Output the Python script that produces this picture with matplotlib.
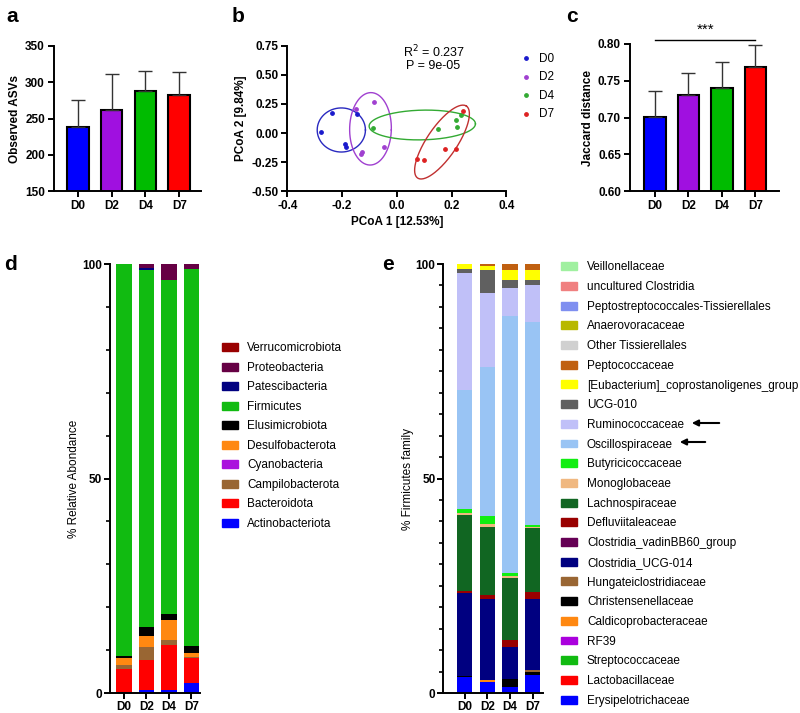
import numpy as np
import matplotlib
matplotlib.use("Agg")
import matplotlib.pyplot as plt
from matplotlib.patches import Patch, FancyArrowPatch
from matplotlib.ticker import FormatStrFormatter, MultipleLocator

plt.rcParams['font.family'] = ['Liberation Sans', 'DejaVu Sans']
plt.rcParams['axes.unicode_minus'] = False
plt.rcParams['font.size'] = 8.5

days = ['D0', 'D2', 'D4', 'D7']
day_colors = ['#0000ff', '#a010e0', '#00bb00', '#ff0000']

# a: observed ASVs (mean, upper error)
asv_mean = [238, 262, 288, 282]
asv_err = [37, 49, 28, 32]

# c: Jaccard distance
jac_mean = [0.701, 0.730, 0.740, 0.769]
jac_err = [0.035, 0.030, 0.036, 0.029]

# b: PCoA points per day
pc_x = {
    'D0': [-0.235, -0.278, -0.190, -0.185, -0.145],
    'D2': [-0.148, -0.082, -0.046, -0.132, -0.127],
    'D4': [-0.088, 0.152, 0.216, 0.221, 0.234],
    'D7': [0.243, 0.177, 0.216, 0.074, 0.099],
}
pc_y = {
    'D0': [0.170, 0.009, -0.095, -0.118, 0.160],
    'D2': [0.204, 0.264, -0.124, -0.180, -0.167],
    'D4': [0.046, 0.032, 0.112, 0.052, 0.158],
    'D7': [0.187, -0.141, -0.141, -0.224, -0.233],
}
pc_colors = ['#1a1acc', '#a040d0', '#33aa33', '#dd2222']
ell_colors = ['#2a2ac0', '#a040d0', '#33aa33', '#c03030']
# ellipse centre and two conjugate semi-axis vectors (data units)
ell_center = [(-0.2025, 0.026), (-0.096, 0.036), (0.093, 0.069), (0.165, -0.078)]
ell_a = [(0.088, 0.0), (0.076, -0.01), (0.194, 0.01), (0.089, 0.310)]
ell_b = [(0.0, 0.19), (0.004, 0.312), (0.0, 0.128), (0.0455, -0.0724)]

# d: phylum composition (bottom to top)
phyla = ['Actinobacteriota', 'Bacteroidota', 'Campilobacterota', 'Cyanobacteria',
         'Desulfobacterota', 'Elusimicrobiota', 'Firmicutes', 'Patescibacteria',
         'Proteobacteria', 'Verrucomicrobiota']
phyla_colors = ['#0000ff', '#ff0000', '#996633', '#aa11dd', '#ff8811', '#000000',
                '#11bb11', '#000080', '#660044', '#990000']
phyla_vals = {
    'D0': [0.2, 5.4, 1.0, 0.0, 1.6, 0.4, 91.3, 0.0, 0.1, 0.0],
    'D2': [0.8, 7.0, 3.0, 0.0, 2.5, 2.2, 83.0, 0.5, 1.0, 0.0],
    'D4': [0.6, 10.5, 1.2, 0.0, 4.7, 1.5, 77.8, 0.0, 3.7, 0.0],
    'D7': [2.4, 5.8, 0.3, 0.0, 0.8, 1.6, 87.9, 0.0, 1.2, 0.0],
}

# e: Firmicutes families (bottom to top)
families = ['Erysipelotrichaceae', 'Lactobacillaceae', 'Streptococcaceae', 'RF39',
            'Caldicoprobacteraceae', 'Christensenellaceae', 'Hungateiclostridiaceae',
            'Clostridia_UCG-014', 'Clostridia_vadinBB60_group', 'Defluviitaleaceae',
            'Lachnospiraceae', 'Monoglobaceae', 'Butyricicoccaceae', 'Oscillospiraceae',
            'Ruminococcaceae', 'UCG-010', '[Eubacterium]_coprostanoligenes_group',
            'Peptococcaceae', 'Other Tissierellales', 'Anaerovoracaceae',
            'Peptostreptococcales-Tissierellales', 'uncultured Clostridia', 'Veillonellaceae']
family_colors = ['#0000ff', '#ff0000', '#11bb11', '#aa00dd', '#ff8811', '#000000',
                 '#996633', '#000080', '#660055', '#990000', '#116622', '#f0b880',
                 '#11ee11', '#99c4f4', '#c0c0f8', '#606060', '#ffff00', '#c06010',
                 '#d0d0d0', '#b8b800', '#7f8ff0', '#f08080', '#a0f0a0']
family_vals = {
    'D0': [3.7, 0, 0, 0, 0, 0.2, 0, 19.4, 0, 0.6, 17.7, 0.3, 1.0, 27.8, 27.1, 1.0, 1.2, 0, 0, 0, 0, 0, 0],
    'D2': [2.6, 0, 0, 0, 0.4, 0, 0, 19.0, 0, 0.8, 15.9, 0.6, 1.9, 34.8, 17.3, 5.3, 0.9, 0.5, 0, 0, 0, 0, 0],
    'D4': [1.4, 0, 0, 0, 0, 1.9, 0, 7.4, 0, 1.6, 14.4, 0.5, 0.8, 59.8, 6.6, 1.9, 2.2, 1.5, 0, 0, 0, 0, 0],
    'D7': [4.1, 0, 0, 0, 0, 0.8, 0.5, 16.6, 0, 1.6, 14.8, 0.4, 0.3, 47.3, 8.6, 1.2, 2.5, 1.3, 0, 0, 0, 0, 0],
}

fig = plt.figure(figsize=(8, 7.13), dpi=100)


def style_axis(ax, pad=2.5):
    for s in ['top', 'right']:
        ax.spines[s].set_visible(False)
    for s in ['left', 'bottom']:
        ax.spines[s].set_linewidth(1.4)
    ax.tick_params(width=1.4, length=4, labelsize=8.5, pad=pad)
    for lab in ax.get_xticklabels() + ax.get_yticklabels():
        lab.set_fontweight('bold')


x = np.arange(len(days))

# ---- a
ax_a = fig.add_axes([0.0675, 0.7321, 0.184, 0.2034])
ax_a.bar(x, asv_mean, width=0.64, color=day_colors, edgecolor='black', linewidth=1.5,
         yerr=[np.zeros(4), asv_err], error_kw=dict(ecolor='#333333', elinewidth=1, capsize=5, capthick=1),
         zorder=2)
ax_a.set_ylim(150, 350)
ax_a.set_xlim(-0.7, 3.65)
ax_a.set_yticks([150, 200, 250, 300, 350])
ax_a.set_xticks(x)
ax_a.set_xticklabels(days)
ax_a.set_ylabel('Observed ASVs', fontweight='bold', labelpad=3)
style_axis(ax_a)

# ---- b
ax_b = fig.add_axes([0.359, 0.7321, 0.274, 0.2034])
t = np.linspace(0, 2 * np.pi, 200)
for i, d in enumerate(days):
    ax_b.scatter(pc_x[d], pc_y[d], s=6, color=pc_colors[i], label=d, zorder=3)
    cx, cy = ell_center[i]
    ax_b.plot(cx + ell_a[i][0] * np.cos(t) + ell_b[i][0] * np.sin(t),
              cy + ell_a[i][1] * np.cos(t) + ell_b[i][1] * np.sin(t),
              color=ell_colors[i], linewidth=1)
ax_b.set_xlim(-0.4, 0.4)
ax_b.set_ylim(-0.5, 0.75)
ax_b.set_xticks([-0.4, -0.2, 0.0, 0.2, 0.4])
ax_b.set_yticks([-0.5, -0.25, 0, 0.25, 0.5, 0.75])
ax_b.xaxis.set_major_formatter(FormatStrFormatter('%.1f'))
ax_b.yaxis.set_major_formatter(FormatStrFormatter('%.2f'))
ax_b.set_xlabel('PCoA 1 [12.53%]', fontweight='bold', labelpad=3)
ax_b.set_ylabel('PCoA 2 [9.84%]', fontweight='bold', labelpad=3)
ax_b.text(0.134, 0.696, 'R$^2$ = 0.237', ha='center', va='center', fontsize=9)
ax_b.text(0.134, 0.58, 'P = 9e-05', ha='center', va='center', fontsize=9)
ax_b.legend(loc='upper left', bbox_to_anchor=(1.02, 1.02), frameon=False, handletextpad=0.6,
            labelspacing=0.55, fontsize=8.5, handlelength=1, borderpad=0.3)
style_axis(ax_b)

# ---- c
ax_c = fig.add_axes([0.7875, 0.7321, 0.1862, 0.2062])
ax_c.bar(x, jac_mean, width=0.64, color=day_colors, edgecolor='black', linewidth=1.5,
         yerr=[np.zeros(4), jac_err], error_kw=dict(ecolor='#333333', elinewidth=1, capsize=5, capthick=1),
         zorder=2)
ax_c.set_ylim(0.6, 0.8)
ax_c.set_xlim(-0.74, 3.7)
ax_c.set_yticks([0.6, 0.65, 0.7, 0.75, 0.8])
ax_c.yaxis.set_major_formatter(FormatStrFormatter('%.2f'))
ax_c.set_xticks(x)
ax_c.set_xticklabels(days)
ax_c.set_ylabel('Jaccard distance', fontweight='bold', labelpad=3)
ax_c.plot([0, 3], [0.806, 0.806], color='black', linewidth=1, clip_on=False)
ax_c.text(1.5, 0.810, '***', ha='center', va='bottom', fontsize=11)
style_axis(ax_c)

# ---- d
ax_d = fig.add_axes([0.1375, 0.028, 0.1125, 0.6017])
bottom = np.zeros(4)
for j, p in enumerate(phyla):
    vals = np.array([phyla_vals[d][j] for d in days])
    ax_d.bar(x, vals, bottom=bottom, width=0.69, color=phyla_colors[j], linewidth=0)
    bottom += vals
ax_d.set_xlim(-0.62, 3.38)
ax_d.set_ylim(0, 100)
ax_d.set_yticks([0, 50, 100])
ax_d.yaxis.set_minor_locator(MultipleLocator(10))
ax_d.set_xticks(x)
ax_d.set_xticklabels(days)
ax_d.set_ylabel('% Relative Abondance', labelpad=2)
style_axis(ax_d, pad=1.5)
ax_d.tick_params(axis='y', which='minor', width=1.2, length=3)
handles_d = [Patch(color=phyla_colors[j], label=phyla[j]) for j in range(len(phyla))][::-1]
fig.legend(handles=handles_d, loc='upper left', bbox_to_anchor=(0.2775, 0.5198), frameon=False,
           fontsize=8.5, handlelength=1.36, handleheight=0.66, labelspacing=0.635, handletextpad=0.78,
           borderpad=0, borderaxespad=0)

# ---- e
ax_e = fig.add_axes([0.554, 0.028, 0.125, 0.6017])
bottom = np.zeros(4)
for j, f in enumerate(families):
    vals = np.array([family_vals[d][j] for d in days])
    ax_e.bar(x, vals, bottom=bottom, width=0.68, color=family_colors[j], linewidth=0)
    bottom += vals
ax_e.set_xlim(-0.95, 3.46)
ax_e.set_ylim(0, 100)
ax_e.set_yticks([0, 50, 100])
ax_e.yaxis.set_minor_locator(MultipleLocator(5))
ax_e.set_xticks(x)
ax_e.set_xticklabels(days)
ax_e.set_ylabel('% Firmicutes family', labelpad=1)
style_axis(ax_e, pad=1.5)
ax_e.tick_params(axis='y', which='minor', width=1.2, length=3)
handles_e = [Patch(color=family_colors[j], label=families[j]) for j in range(len(families))][::-1]
fig.legend(handles=handles_e, loc='upper left', bbox_to_anchor=(0.701, 0.6334), frameon=False,
           fontsize=8.5, handlelength=1.36, handleheight=0.66, labelspacing=0.652, handletextpad=0.85,
           borderpad=0, borderaxespad=0)

# arrows pointing at Ruminococcaceae / Oscillospiraceae in legend
for (x0, x1, yy) in [(722, 689, 423), (708, 677, 442)]:
    fig.add_artist(FancyArrowPatch((x0 / 800, 1 - yy / 713), (x1 / 800, 1 - yy / 713),
                                   transform=fig.transFigure, arrowstyle='-|>',
                                   mutation_scale=9, linewidth=1.5, color='black'))

# panel letters
for lab, px, py in [('a', 6, 22), ('b', 232, 22), ('c', 566, 22), ('d', 4, 270), ('e', 382, 270)]:
    fig.text(px / 800, 1 - py / 713, lab, fontsize=15, fontweight='bold', va='baseline')

fig.savefig('out.png', dpi=100)
